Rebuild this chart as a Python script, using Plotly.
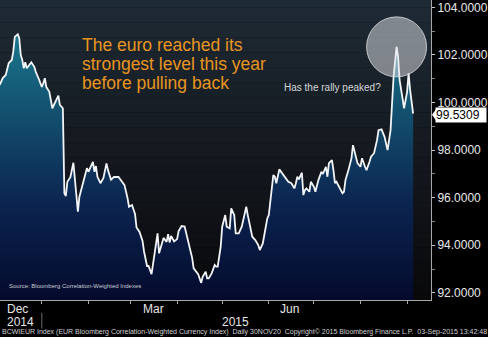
import numpy as np
import plotly.graph_objects as go

dates = [
    "2014-12-04","2014-12-06","2014-12-08","2014-12-10","2014-12-12","2014-12-13","2014-12-14","2014-12-16","2014-12-17","2014-12-18",
    "2014-12-19","2014-12-20","2014-12-21","2014-12-22","2014-12-24","2014-12-25","2014-12-27","2014-12-28","2014-12-30","2015-01-01",
    "2015-01-02","2015-01-03","2015-01-04","2015-01-06","2015-01-08","2015-01-10","2015-01-12","2015-01-13","2015-01-15","2015-01-16",
    "2015-01-17","2015-01-18","2015-01-20","2015-01-22","2015-01-23","2015-01-25","2015-01-26","2015-01-28","2015-01-29","2015-01-31",
    "2015-02-01","2015-02-04","2015-02-05","2015-02-06","2015-02-07","2015-02-09","2015-02-11","2015-02-13","2015-02-14","2015-02-16",
    "2015-02-18","2015-02-21","2015-02-23","2015-02-25","2015-02-27","2015-02-28","2015-03-02","2015-03-04","2015-03-05","2015-03-07",
    "2015-03-09","2015-03-10","2015-03-12","2015-03-13","2015-03-15","2015-03-16","2015-03-18","2015-03-19","2015-03-20","2015-03-22",
    "2015-03-23","2015-03-25","2015-03-26","2015-03-27","2015-03-28","2015-03-30","2015-04-01","2015-04-02","2015-04-04","2015-04-06",
    "2015-04-07","2015-04-09","2015-04-11","2015-04-12","2015-04-14","2015-04-15","2015-04-17","2015-04-18","2015-04-20","2015-04-21",
    "2015-04-22","2015-04-24","2015-04-26","2015-04-27","2015-04-28","2015-04-30","2015-05-01","2015-05-03","2015-05-04","2015-05-06",
    "2015-05-07","2015-05-09","2015-05-10","2015-05-12","2015-05-14","2015-05-17","2015-05-18","2015-05-20","2015-05-21","2015-05-23",
    "2015-05-25","2015-05-26","2015-05-28","2015-05-30","2015-05-31","2015-06-01","2015-06-03","2015-06-04","2015-06-05","2015-06-06",
    "2015-06-08","2015-06-10","2015-06-12","2015-06-14","2015-06-16","2015-06-18","2015-06-19","2015-06-20","2015-06-21","2015-06-23",
    "2015-06-24","2015-06-25","2015-06-26","2015-06-28","2015-06-29","2015-07-01","2015-07-02","2015-07-04","2015-07-06","2015-07-07",
    "2015-07-09","2015-07-10","2015-07-11","2015-07-13","2015-07-14","2015-07-15","2015-07-16","2015-07-18","2015-07-20","2015-07-21",
    "2015-07-22","2015-07-24","2015-07-26","2015-07-27","2015-07-29","2015-07-30","2015-08-01","2015-08-02","2015-08-04","2015-08-05",
    "2015-08-07","2015-08-08","2015-08-10","2015-08-12","2015-08-13","2015-08-15","2015-08-17","2015-08-18","2015-08-19","2015-08-21",
    "2015-08-22","2015-08-23","2015-08-25","2015-08-26","2015-08-27","2015-08-29","2015-08-30","2015-09-01","2015-09-02","2015-09-03","2015-09-05",
]

values = [
    100.74,101.03,101.16,101.66,101.79,102.13,102.76,102.87,102.70,102.00,
    101.79,101.44,101.69,101.44,101.61,101.69,101.50,101.29,100.99,100.66,
    100.81,101.02,100.66,100.45,99.76,100.03,100.29,99.90,99.76,96.19,
    96.07,96.67,96.86,97.47,96.74,95.41,96.04,96.49,96.74,97.24,
    97.09,97.51,97.09,97.33,96.88,96.61,96.83,97.44,97.16,96.76,
    96.87,96.87,96.70,96.53,95.99,95.62,95.69,95.32,94.75,94.56,
    94.18,93.74,93.13,93.13,92.79,93.21,94.01,94.50,93.66,94.05,
    94.31,94.14,94.47,94.12,94.39,94.16,94.26,94.60,94.81,94.79,
    94.54,94.01,93.47,93.03,92.89,92.79,92.42,92.67,92.89,92.61,
    92.61,92.82,93.17,93.10,93.10,93.94,94.78,95.27,94.78,94.71,
    95.55,95.27,94.50,94.50,94.78,95.62,95.27,94.64,94.36,94.22,
    94.01,93.80,94.08,94.78,95.13,95.27,96.32,96.95,96.88,96.61,
    97.19,97.03,96.82,96.67,96.61,96.39,96.61,96.88,96.77,97.05,
    96.11,96.32,96.39,96.25,96.67,96.46,96.25,96.74,97.09,97.00,
    97.30,96.88,97.45,97.58,97.16,96.61,96.67,96.46,96.19,96.25,
    96.74,97.16,97.66,98.21,97.72,97.45,97.30,97.66,97.30,97.16,
    97.51,97.72,97.87,98.42,98.84,98.87,98.56,98.21,98.00,98.84,
    99.97,101.08,102.34,101.92,100.95,100.24,99.76,100.45,101.23,100.53,99.5309,
]

month_ticks = ["2015-01-01","2015-02-01","2015-03-01","2015-04-01","2015-05-01",
               "2015-06-01","2015-07-01","2015-08-01","2015-09-01"]
month_labels = ["Dec", "Mar", "Jun"]
month_label_dates = ["2014-12-16", "2015-03-16", "2015-06-15"]
year_labels = ["2014", "2015"]
year_label_dates = ["2014-12-18", "2015-05-10"]
year_break = "2015-01-01"

title_lines = ["The euro reached its", "strongest level this year", "before pulling back"]
note_text = "Has the rally peaked?"
source_text = "Source: Bloomberg Correlation-Weighted Indexes"
footer_text = ("BCWIEUR Index (EUR Bloomberg Correlation-Weighted Currency Index)  Daily 30NOV20  "
               "Copyright\u00a9 2015 Bloomberg Finance L.P.  03-Sep-2015 13:42:48")

assert len(dates) == len(values)

W, H = 488, 337
ML, MR, MT, MB = 0, 55, 0, 37
PW, PH = W - ML - MR, H - MT - MB
FONT = "Liberation Sans, Arial, sans-serif"

peak_i = int(np.argmax(values[150:])) + 150
last_v = values[-1]

fig = go.Figure()
fig.add_trace(go.Scatter(
    x=dates, y=values, mode="lines",
    line=dict(color="#f2f4f6", width=1.8),
    fill="tozeroy",
    fillgradient=dict(type="vertical", start=91.7, stop=103.2,
                      colorscale=[[0, "#040a2c"], [0.35, "#0b2450"], [0.7, "#135270"], [1, "#1b7b90"]]),
    hoverinfo="skip", showlegend=False,
))

shapes = []
# background vertical gradient bands
top = np.array([31, 43, 53]); mid = np.array([20, 24, 30]); bot = np.array([9, 9, 11])
N = 40
for i in range(N):
    t = (i + 0.5) / N  # 0 at top
    if t < 0.55:
        c = top + (mid - top) * (t / 0.55)
    else:
        c = mid + (bot - mid) * ((t - 0.55) / 0.45)
    c = c.astype(int)
    shapes.append(dict(type="rect", xref="paper", yref="paper", x0=0, x1=1,
                       y0=1 - (i + 1) / N, y1=1 - i / N + 0.001, line=dict(width=0),
                       fillcolor=f"rgb({c[0]},{c[1]},{c[2]})", layer="below"))
# circle around peak
shapes.append(dict(type="circle", xref="x", yref="y", xsizemode="pixel", ysizemode="pixel",
                   xanchor=dates[peak_i], yanchor=values[peak_i], x0=-30, x1=30, y0=-30, y1=30,
                   fillcolor="rgba(230,232,235,0.5)", line=dict(color="rgba(220,222,225,0.8)", width=1),
                   layer="above"))
# year separator
shapes.append(dict(type="line", xref="x", yref="paper", x0=year_break, x1=year_break,
                   y0=-0.043, y1=-0.095, line=dict(color="#6a6a6a", width=1)))
# last value pointer
shapes.append(dict(type="path", xref="paper", yref="y", xsizemode="pixel", ysizemode="pixel",
                   xanchor=1, yanchor=last_v, path="M1,-1 L6,6 L6,-8 Z",
                   fillcolor="white", line=dict(width=0), layer="above"))

ann = []
for k, (txt, ypx) in enumerate(zip(title_lines, [45, 64, 82.5])):
    ann.append(dict(text=txt, xref="paper", yref="paper", x=80 / PW, y=(PH - ypx) / PH,
                    xanchor="left", yanchor="middle", showarrow=False,
                    font=dict(family=FONT, size=17.5, color="#e8951f")))
ann.append(dict(text=note_text, xref="paper", yref="paper", x=334.5 / PW, y=(PH - 87) / PH,
                xanchor="center", yanchor="middle", showarrow=False,
                font=dict(family=FONT, size=10, color="#d4d6d8")))
ann.append(dict(text=source_text, xref="paper", yref="paper", x=7 / PW, y=(PH - 285.7) / PH,
                xanchor="left", yanchor="middle", showarrow=False,
                font=dict(family=FONT, size=6, color="#c8ccd2")))
for txt, d in zip(month_labels, month_label_dates):
    ann.append(dict(text=txt, xref="x", yref="paper", x=d, y=(PH - 308.5) / PH,
                    xanchor="center", yanchor="middle", showarrow=False,
                    font=dict(family=FONT, size=12, color="#e6e6e6")))
for txt, d in zip(year_labels, year_label_dates):
    ann.append(dict(text=txt, xref="x", yref="paper", x=d, y=(PH - 322) / PH,
                    xanchor="center", yanchor="middle", showarrow=False,
                    font=dict(family=FONT, size=12, color="#e6e6e6")))
ann.append(dict(text=footer_text, xref="paper", yref="paper", x=0, y=(PH - 332) / PH,
                xanchor="left", yanchor="middle", showarrow=False, xshift=0,
                font=dict(family=FONT, size=7, color="#d0d0d0")))
ann.append(dict(text=f"{last_v:.4f}", xref="paper", yref="y", x=1, y=last_v,
                xanchor="left", yanchor="middle", xshift=4, yshift=-1, showarrow=False,
                bgcolor="white", borderpad=0, width=50, height=14, align="left",
                font=dict(family=FONT, size=12, color="black")))

fig.update_layout(
    width=W, height=H, margin=dict(l=ML, r=MR, t=MT, b=MB, pad=0),
    paper_bgcolor="black", plot_bgcolor="rgba(0,0,0,0)",
    shapes=shapes, annotations=ann, showlegend=False,
    xaxis=dict(type="date", range=["2014-12-04 04:20", "2015-09-16 21:36"],
               showgrid=False, zeroline=False, showline=True, linecolor="#a8a8a8", linewidth=1,
               ticks="outside", ticklen=3, tickcolor="#a8a8a8", tickvals=month_ticks,
               showticklabels=False),
    yaxis=dict(side="right", range=[91.70, 104.31], dtick=2, tick0=0, tickformat=".4f",
               showgrid=False, zeroline=False, showline=True, linecolor="#a8a8a8", linewidth=1,
               ticks="outside", ticklen=3, tickcolor="#c8c8c8",
               minor=dict(dtick=1, ticks="outside", ticklen=3, tickcolor="#888888"),
               tickfont=dict(family=FONT, size=12, color="#e8e8e8")),
)

fig.write_html("out.html")
